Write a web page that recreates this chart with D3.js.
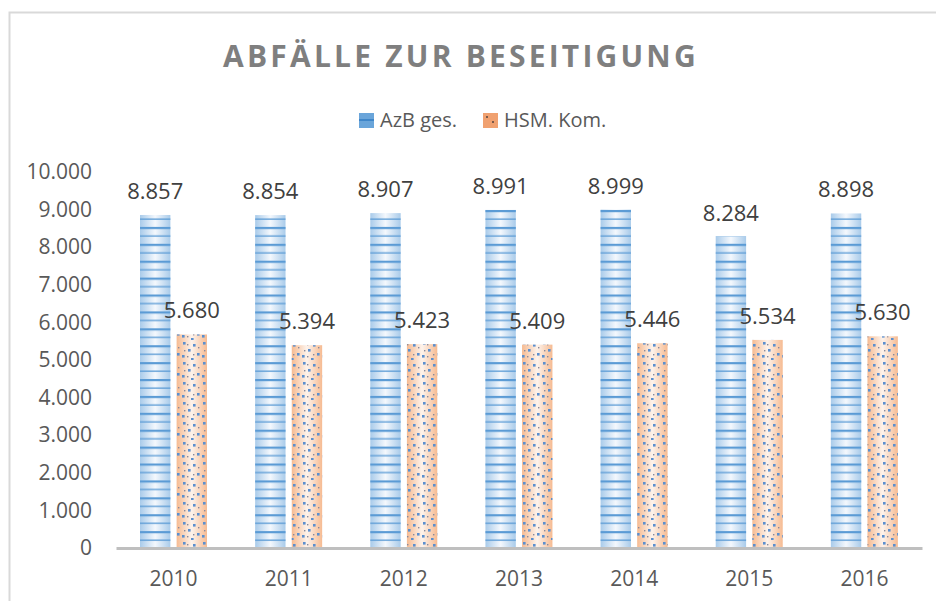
<!DOCTYPE html>
<html>
<head>
<meta charset="utf-8">
<script src="https://cdn.jsdelivr.net/npm/d3@7/dist/d3.min.js"></script>
<style>
  body { margin: 0; background: #fff; }
  text { font-family: "Open Sans", sans-serif; }
</style>
</head>
<body>
<div id="chart"></div>
<script>
// chart data
const years = ['2010', '2011', '2012', '2013', '2014', '2015', '2016']
const seriesNames = ['AzB ges.', 'HSM. Kom.']
const azbValues = [8857, 8854, 8907, 8991, 8999, 8284, 8898]
const hsmValues = [5680, 5394, 5423, 5409, 5446, 5534, 5630]
const yTicks = [0, 1000, 2000, 3000, 4000, 5000, 6000, 7000, 8000, 9000, 10000]

const width = 936
const height = 601

// german number format, 10.000
const de = d3.formatLocale({ decimal: ',', thousands: '.', grouping: [3], currency: ['', ' €'] })
const fmt = de.format(',')

const svg = d3.select('#chart')
    .append('svg')
    .attr('width', width)
    .attr('height', height)

const defs = svg.append('defs')

// gradients for the bar fills (light centre, coloured edges)
const blueGrad = defs.append('linearGradient').attr('id', 'blueGrad')
blueGrad.append('stop').attr('offset', '0%').attr('stop-color', '#a9cbea')
blueGrad.append('stop').attr('offset', '50%').attr('stop-color', '#f4f8fd')
blueGrad.append('stop').attr('offset', '100%').attr('stop-color', '#a9cbea')

const orangeGrad = defs.append('linearGradient').attr('id', 'orangeGrad')
orangeGrad.append('stop').attr('offset', '0%').attr('stop-color', '#f6bb92')
orangeGrad.append('stop').attr('offset', '50%').attr('stop-color', '#fdf3ec')
orangeGrad.append('stop').attr('offset', '100%').attr('stop-color', '#f6bb92')

// horizontal stripes for blue bars
const stripe = defs.append('pattern')
    .attr('id', 'stripes')
    .attr('patternUnits', 'userSpaceOnUse')
    .attr('width', 40)
    .attr('height', 16.9)
    .attr('y', 548)
stripe.append('rect').attr('x', 0).attr('y', 0).attr('width', 40).attr('height', 2.2).attr('fill', '#5b9bd5')
stripe.append('rect').attr('x', 0).attr('y', 8.45).attr('width', 40).attr('height', 1.3).attr('fill', '#5b9bd5')

// scattered dots for orange bars
const dots = defs.append('pattern')
    .attr('id', 'dots')
    .attr('patternUnits', 'userSpaceOnUse')
    .attr('width', 20)
    .attr('height', 20)
const blueDots = [[3, 2], [13, 4], [8, 9], [17, 13], [2, 15], [11, 18]]
const grayDots = [[7, 4], [18, 7], [4, 10], [13, 14], [7, 16]]
blueDots.forEach(p => dots.append('rect')
    .attr('x', p[0]).attr('y', p[1]).attr('width', 2.6).attr('height', 2.6).attr('fill', '#5b8fcf'))
grayDots.forEach(p => dots.append('rect')
    .attr('x', p[0]).attr('y', p[1]).attr('width', 1.4).attr('height', 1.4).attr('fill', '#8a8a9a'))

// chart border
svg.append('rect')
    .attr('x', 9.5)
    .attr('y', 12.5)
    .attr('width', 960)
    .attr('height', 620)
    .attr('fill', 'none')
    .attr('stroke', '#d9d9d9')
    .attr('stroke-width', 2)

// title
svg.append('text')
    .attr('x', 461)
    .attr('y', 67)
    .attr('text-anchor', 'middle')
    .attr('font-size', '30px')
    .attr('font-weight', 'bold')
    .attr('letter-spacing', '3.2px')
    .attr('fill', '#7f7f7f')
    .text('ABFÄLLE ZUR BESEITIGUNG')

// scales
const x = d3.scaleBand()
    .domain(years)
    .range([116, 922])

const xSub = d3.scaleBand()
    .domain(seriesNames)
    .range([24, 91])
    .paddingInner(0.17)

const y = d3.scaleLinear()
    .domain([0, 10000])
    .range([548, 172])

// y axis labels only
const yAxis = svg.append('g')
    .attr('transform', 'translate(100,0)')
    .call(d3.axisLeft(y).tickValues(yTicks).tickFormat(fmt).tickSize(0).tickPadding(8))
yAxis.select('.domain').remove()
yAxis.selectAll('text')
    .attr('font-family', '"Open Sans", sans-serif')
    .attr('font-size', '21px')
    .attr('fill', '#595959')

// bars: gradient layer, then pattern layer
const fills = { 'AzB ges.': ['url(#blueGrad)', 'url(#stripes)'], 'HSM. Kom.': ['url(#orangeGrad)', 'url(#dots)'] }
const rows = []
years.forEach((yr, i) => {
    rows.push({ year: yr, key: seriesNames[0], value: azbValues[i] })
    rows.push({ year: yr, key: seriesNames[1], value: hsmValues[i] })
})

const barG = svg.append('g')
;[0, 1].forEach(layer => {
    barG.selectAll('.bar' + layer)
        .data(rows)
        .enter()
        .append('rect')
            .attr('class', 'bar' + layer)
            .attr('x', d => x(d.year) + xSub(d.key))
            .attr('y', d => y(d.value))
            .attr('width', xSub.bandwidth())
            .attr('height', d => y(0) - y(d.value))
            .attr('fill', d => fills[d.key][layer])
})

// data labels
svg.append('g')
    .selectAll('text')
    .data(rows)
    .enter()
    .append('text')
        .attr('x', d => x(d.year) + xSub(d.key) + xSub.bandwidth() / 2)
        .attr('y', d => y(d.value) - 16)
        .attr('text-anchor', 'middle')
        .attr('font-size', '22px')
        .attr('fill', '#404040')
        .text(d => fmt(d.value))

// x axis
const xAxis = svg.append('g')
    .attr('transform', 'translate(0,548)')
    .call(d3.axisBottom(x).tickSize(0).tickSizeOuter(0).tickPadding(23))
xAxis.select('.domain')
    .attr('stroke', '#bfbfbf')
    .attr('stroke-width', 3)
xAxis.selectAll('text')
    .attr('font-family', '"Open Sans", sans-serif')
    .attr('font-size', '21px')
    .attr('fill', '#595959')

// legend
const legendX = [359, 483]
const legend = svg.append('g')
seriesNames.forEach((name, i) => {
    legend.append('rect')
        .attr('x', legendX[i]).attr('y', 113).attr('width', 15).attr('height', 15)
        .attr('fill', i === 0 ? '#6aa5da' : '#f0a170')
    if (i === 0) {
        legend.append('rect').attr('x', legendX[i]).attr('y', 119).attr('width', 15).attr('height', 2).attr('fill', '#3f86c9')
    } else {
        legend.append('rect').attr('x', legendX[i] + 3).attr('y', 116).attr('width', 2).attr('height', 2).attr('fill', '#7a5a4a')
        legend.append('rect').attr('x', legendX[i] + 9).attr('y', 121).attr('width', 2).attr('height', 2).attr('fill', '#7a5a4a')
    }
    legend.append('text')
        .attr('x', legendX[i] + 21)
        .attr('y', 127)
        .attr('font-size', '20px')
        .attr('fill', '#595959')
        .text(name)
})
</script>
</body>
</html>
